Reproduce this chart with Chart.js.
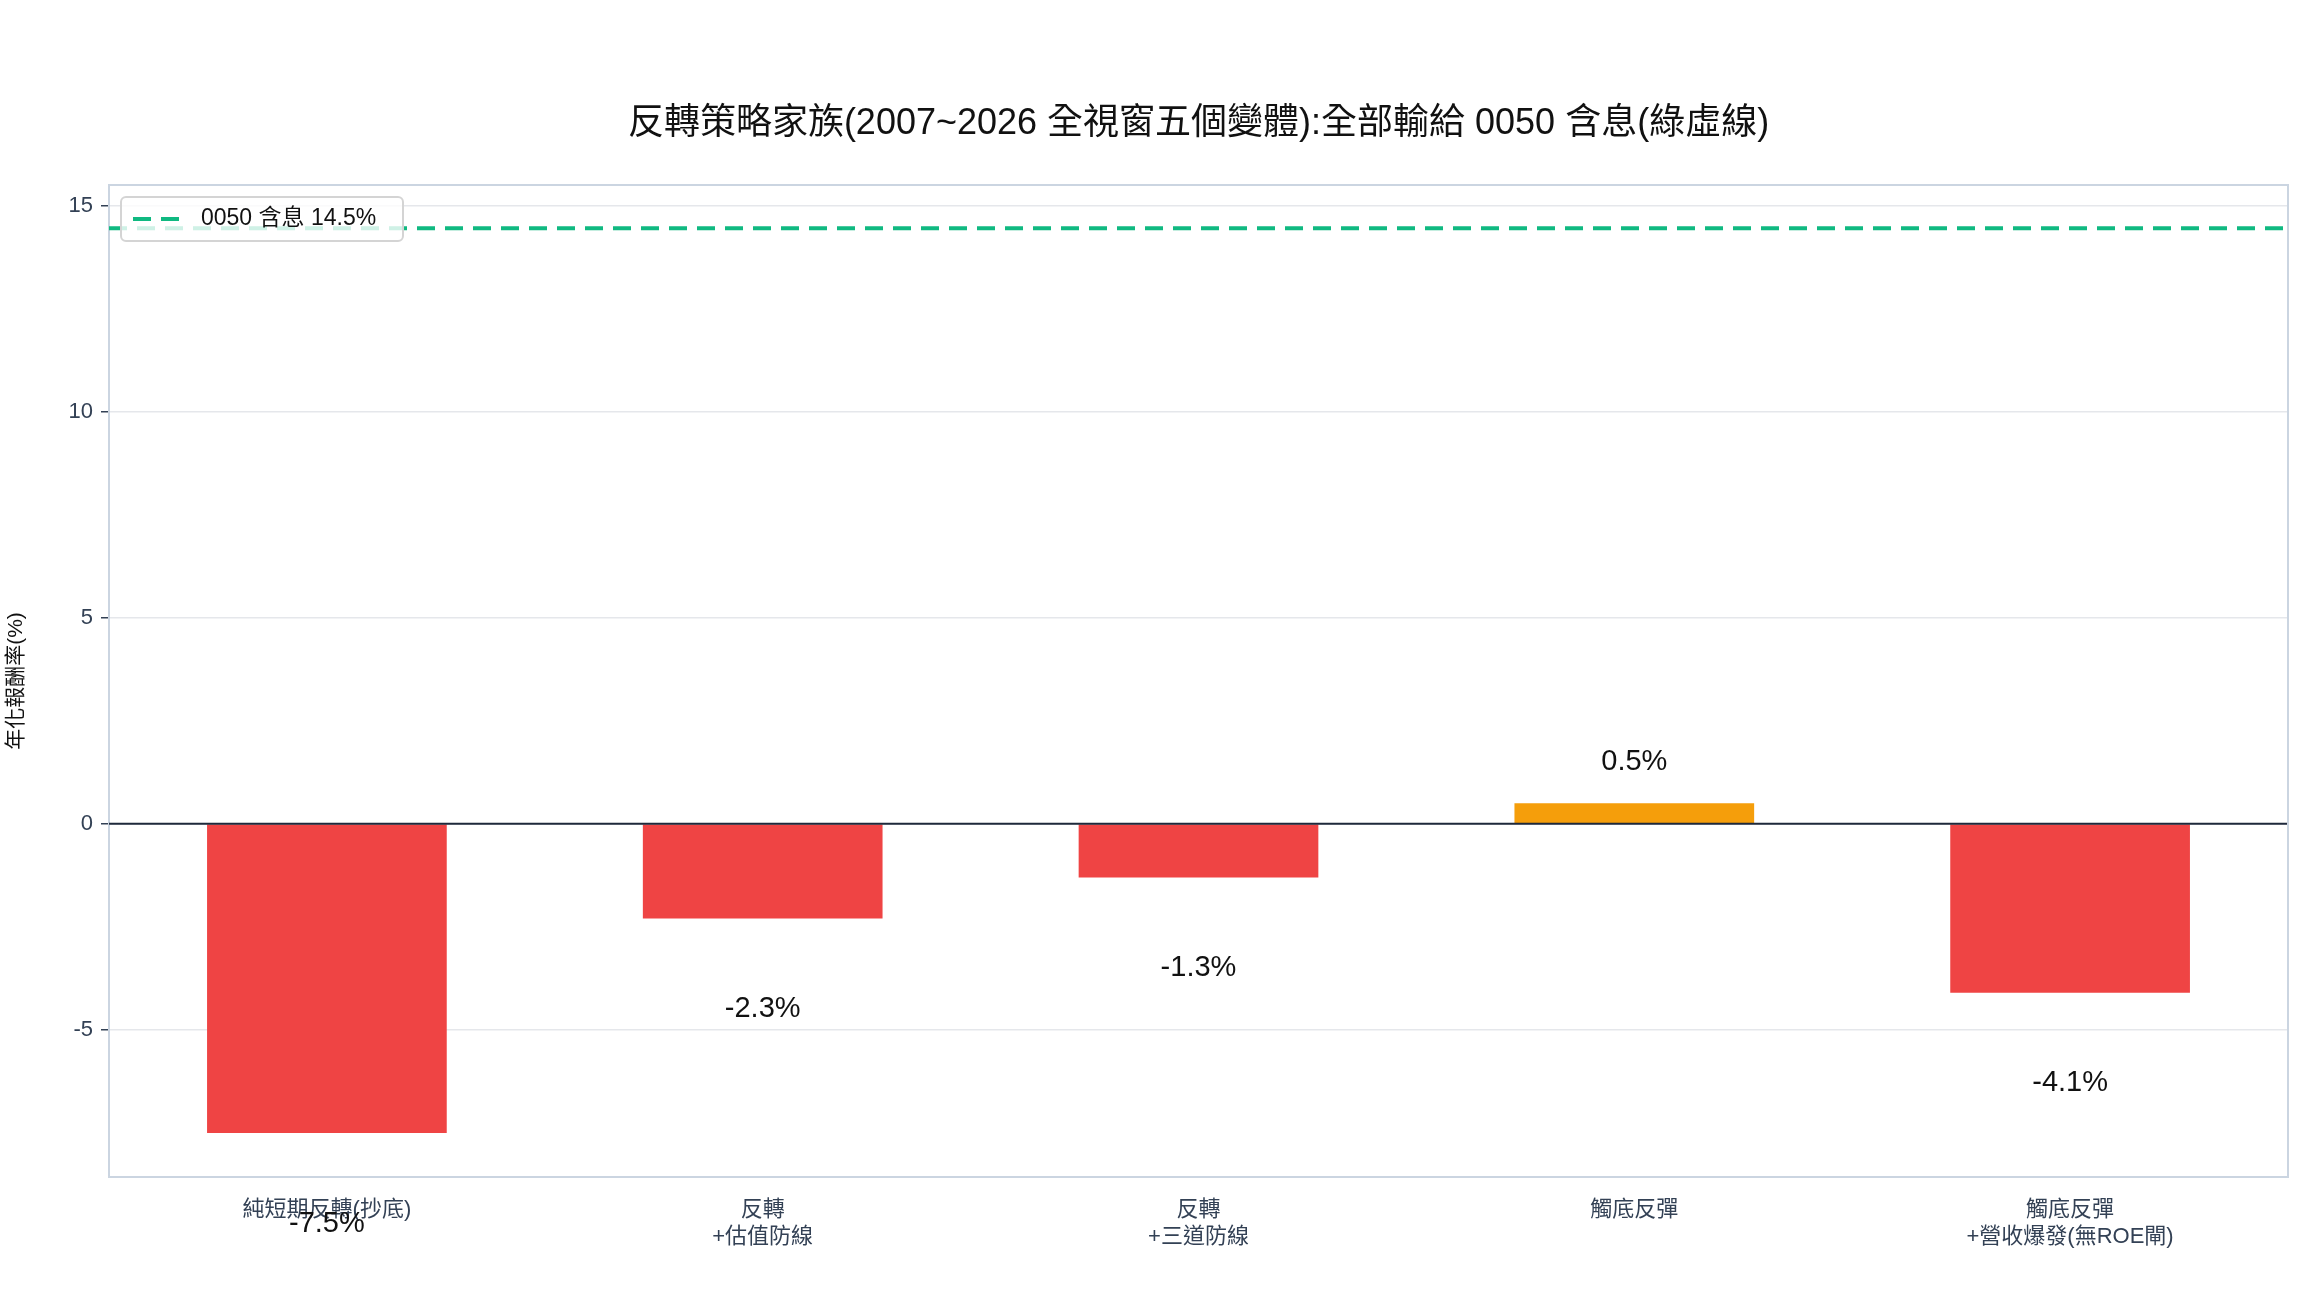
<!DOCTYPE html>
<html><head><meta charset="utf-8">
<script src="https://cdn.jsdelivr.net/npm/chart.js@4"></script>
<style>html,body{margin:0;padding:0;background:#fff}</style>
</head><body>
<canvas id="c" width="2304" height="1296"></canvas>
<script>
const categories = [["純短期反轉(抄底)"],["反轉","+估值防線"],["反轉","+三道防線"],["觸底反彈"],["觸底反彈","+營收爆發(無ROE閘)"]];
const returns = [-7.5, -2.3, -1.3, 0.5, -4.1];
const benchmarkValue = 14.45;
const benchmarkLabel = "0050 含息 14.5%";
const yTicks = [-5, 0, 5, 10, 15];
const FONT = '"Liberation Sans","Noto Sans CJK TC",sans-serif';

const overlay = {
  id: 'overlay',
  afterDatasetsDraw(chart) {
    const {ctx, chartArea: a, scales: {x, y}} = chart;
    ctx.save();
    // zero line
    ctx.strokeStyle = '#1e293b'; ctx.lineWidth = 2;
    ctx.beginPath(); ctx.moveTo(a.left, y.getPixelForValue(0)); ctx.lineTo(a.right, y.getPixelForValue(0)); ctx.stroke();
    // benchmark
    const by = y.getPixelForValue(benchmarkValue);
    ctx.strokeStyle = '#10b981'; ctx.lineWidth = 4; ctx.setLineDash([18, 10]);
    ctx.beginPath(); ctx.moveTo(a.left, by); ctx.lineTo(a.right, by); ctx.stroke();
    ctx.setLineDash([]);
    // legend box
    const lx = a.left + 12, ly = a.top + 12, lw = 282, lh = 44;
    ctx.fillStyle = 'rgba(255,255,255,0.8)';
    ctx.strokeStyle = '#d4d4d4'; ctx.lineWidth = 2;
    ctx.beginPath(); ctx.roundRect(lx, ly, lw, lh, 5); ctx.fill(); ctx.stroke();
    ctx.strokeStyle = '#10b981'; ctx.lineWidth = 4; ctx.setLineDash([18, 10]);
    ctx.beginPath(); ctx.moveTo(lx + 12, ly + 22); ctx.lineTo(lx + 68, ly + 22); ctx.stroke();
    ctx.setLineDash([]);
    ctx.fillStyle = '#111'; ctx.font = '23px ' + FONT; ctx.textBaseline = 'middle'; ctx.textAlign = 'left';
    ctx.fillText(benchmarkLabel, lx + 80, ly + 22);
    // value labels
    ctx.font = '29px ' + FONT; ctx.textAlign = 'center';
    returns.forEach((v, i) => {
      const px = x.getPixelForValue(i);
      const py = y.getPixelForValue(v >= 0 ? v + 1.0 : v - 2.2);
      ctx.fillText(v.toFixed(1) + '%', px, py);
    });
    // title
    ctx.font = '36px ' + FONT; ctx.fillStyle = '#111';
    ctx.fillText('反轉策略家族(2007~2026 全視窗五個變體):全部輸給 0050 含息(綠虛線)', (a.left + a.right) / 2, 124);
    ctx.restore();
  }
};

new Chart(document.getElementById('c'), {
  type: 'bar',
  data: {
    labels: categories,
    datasets: [{
      data: returns,
      backgroundColor: returns.map(v => v >= 0 ? '#f59e0b' : '#ef4444'),
      barPercentage: 0.55, categoryPercentage: 1.0
    }]
  },
  options: {
    responsive: false, animation: false, devicePixelRatio: 1,
    layout: {padding: {top: 185, right: 16, left: 0, bottom: 0}},
    plugins: {legend: {display: false}, tooltip: {enabled: false}},
    scales: {
      x: {
        border: {display: true, color: '#cbd5e1', width: 2},
        grid: {display: false, drawTicks: true},
        ticks: {color: '#334155', font: {family: FONT, size: 22}, maxRotation: 0, padding: 12},
        afterFit(s) { s.height = 119; }
      },
      y: {
        min: -8.57, max: 15.5,
        afterBuildTicks(s) { s.ticks = yTicks.map(v => ({value: v})); },
        border: {display: true, color: '#cbd5e1', width: 2},
        grid: {color: '#e5e7eb', lineWidth: 1.5, tickColor: '#334155', tickLength: 8},
        ticks: {color: '#334155', font: {family: FONT, size: 22}, padding: 8},
        title: {display: true, text: '年化報酬率(%)', color: '#111', font: {family: FONT, size: 21}},
        afterFit(s) { s.width = 109; }
      }
    }
  },
  plugins: [overlay, {
    id: 'frame',
    afterDraw(chart) {
      const {ctx, chartArea: a} = chart;
      ctx.save(); ctx.strokeStyle = '#cbd5e1'; ctx.lineWidth = 2;
      ctx.beginPath(); ctx.moveTo(a.left, a.top); ctx.lineTo(a.right, a.top); ctx.lineTo(a.right, a.bottom); ctx.stroke();
      ctx.restore();
    }
  }]
});
</script>
</body></html>
